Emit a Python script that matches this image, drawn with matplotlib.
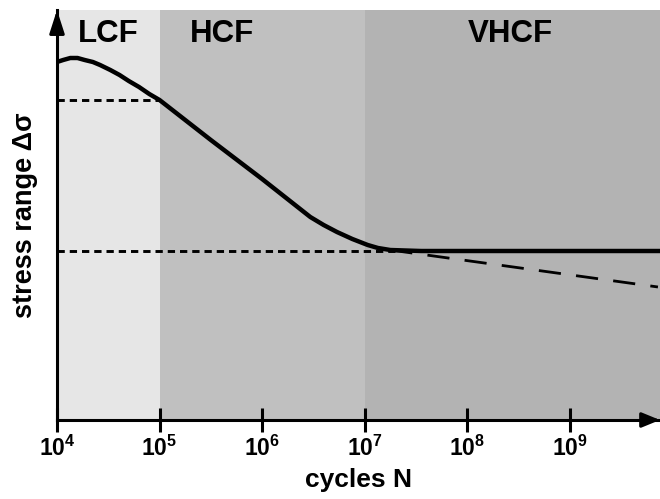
import matplotlib
matplotlib.use("Agg")
import matplotlib.pyplot as plt

plt.rcParams['font.family'] = ['Liberation Sans', 'DejaVu Sans']
plt.rcParams['font.weight'] = 'bold'
plt.rcParams['mathtext.fontset'] = 'custom'
plt.rcParams['mathtext.rm'] = 'Liberation Sans:bold'
plt.rcParams['mathtext.it'] = 'Liberation Sans:bold'
plt.rcParams['mathtext.bf'] = 'Liberation Sans:bold'

# regimes (log10 of cycle limits)
regimes = ['LCF', 'HCF', 'VHCF']
regime_start = [4.0, 5.0, 7.0]
regime_end = [5.0, 7.0, 9.88]
regime_colors = ['#e6e6e6', '#c0c0c0', '#b3b3b3']
regime_label_x = [4.5, 5.61, 8.42]

# S-N curve (log10 N, stress in arbitrary units)
curve_logN = [4.0, 4.06, 4.13, 4.2, 4.27, 4.35, 4.42, 4.52, 4.61, 4.7, 4.8, 4.9, 5.0,
              5.5, 6.0, 6.47, 6.6, 6.73, 6.88, 7.03, 7.13, 7.25, 7.55, 9.88]
curve_stress = [358, 360, 362, 362, 360, 358, 355, 350, 345, 339, 333, 326, 320,
                280, 241, 203, 195, 188, 181, 175, 172, 170, 169, 169]

# extrapolated VHCF decline (dashed)
decline_logN = [7.25, 9.86]
decline_stress = [170, 133]

# reference levels (dotted)
level_stress = [320, 169]
level_end = [5.0, 7.3]

tick_exp = [4, 5, 6, 7, 8, 9]

fig = plt.figure(figsize=(6.6, 4.99), dpi=100)
ax = fig.add_axes([57 / 660, (499 - 420) / 499, 603 / 660, 410 / 499])

for start, end, color in zip(regime_start, regime_end, regime_colors):
    ax.axvspan(start, end, color=color, lw=0, zorder=0)
for name, x in zip(regimes, regime_label_x):
    ax.text(x, 386, name, ha='center', va='center', fontsize=22.5, fontweight='bold')

for y, end in zip(level_stress, level_end):
    ax.plot([4.0, end], [y, y], color='black', lw=2.1, dashes=(2.5, 1.7), zorder=2)

ax.plot(decline_logN, decline_stress, color='black', lw=2.0, dashes=(8, 5.5), zorder=2)
ax.plot(curve_logN, curve_stress, color='black', lw=3.2, solid_capstyle='butt',
        solid_joinstyle='round', zorder=3)

ax.set_xlim(4.0, 9.88)
ax.set_ylim(0, 410)
for side in ['top', 'right']:
    ax.spines[side].set_visible(False)
for side in ['left', 'bottom']:
    ax.spines[side].set_linewidth(2.2)

ax.set_xticks(tick_exp)
ax.set_xticklabels(['$10^{%d}$' % e for e in tick_exp])
ax.tick_params(axis='x', direction='inout', length=17, width=2.2, pad=3, labelsize=16.5)
ax.set_yticks([])

# axis arrows
ax.annotate('', xy=(1.0, 0), xytext=(0.97, 0), xycoords='axes fraction',
            arrowprops=dict(arrowstyle='-|>,head_length=1.1,head_width=0.45', color='black',
                            lw=2.2, shrinkA=0, shrinkB=0), annotation_clip=False)
ax.annotate('', xy=(0, 1.0), xytext=(0, 0.95), xycoords='axes fraction',
            arrowprops=dict(arrowstyle='-|>,head_length=1.4,head_width=0.45', color='black',
                            lw=2.2, shrinkA=0, shrinkB=0), annotation_clip=False)

ax.set_xlabel('cycles N', fontsize=19, fontweight='bold', labelpad=5)
ax.set_ylabel('stress range Δσ', fontsize=19.5, fontweight='bold', labelpad=14)

fig.savefig('out.png', dpi=100)
